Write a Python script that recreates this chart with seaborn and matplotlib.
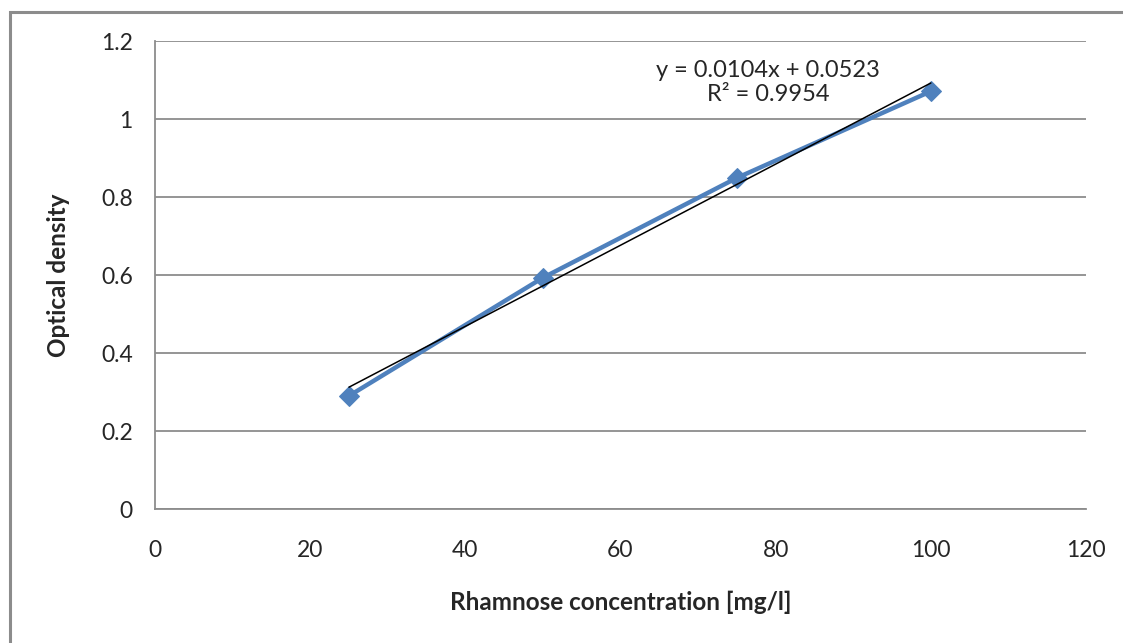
import matplotlib
matplotlib.use('Agg')
import matplotlib.pyplot as plt
from matplotlib.patches import Rectangle
import numpy as np
import pandas as pd
import seaborn as sns

# data
concentration = [25, 50, 75, 100]
optical_density = [0.290, 0.593, 0.849, 1.071]
trend_slope = 0.0104
trend_intercept = 0.0523
r_squared = 0.9954

x_ticks = [0, 20, 40, 60, 80, 100, 120]
y_ticks = [0, 0.2, 0.4, 0.6, 0.8, 1.0, 1.2]
y_tick_labels = ['0', '0.2', '0.4', '0.6', '0.8', '1', '1.2']

sns.set_style('white')
plt.rcParams['font.family'] = ['Lato', 'DejaVu Sans']

fig = plt.figure(figsize=(11.23, 6.43), dpi=100)
ax = fig.add_axes([155 / 1123, 1 - 509 / 643, (1086 - 155) / 1123, (509 - 41) / 643])

# outer chart frame (only left/top visible in the reference)
fig.patches.append(Rectangle((10 / 1123, -0.05), 1.2, 1 - 12 / 643 + 0.05,
                             transform=fig.transFigure, fill=False,
                             edgecolor='#8c8c8c', linewidth=2.2, zorder=0))

df = pd.DataFrame({'conc': concentration, 'od': optical_density})
trend_x = np.array([concentration[0], concentration[-1]])
trend = pd.DataFrame({'conc': trend_x, 'od': trend_slope * trend_x + trend_intercept})

sns.lineplot(data=df, x='conc', y='od', ax=ax, color='#4f81bd', linewidth=3.2,
             marker='D', markersize=10, markeredgecolor='#4f81bd', zorder=3)
sns.lineplot(data=trend, x='conc', y='od', ax=ax, color='black', linewidth=1.1, zorder=4)

ax.text(79, 1.093, f'y = {trend_slope}x + {trend_intercept}\nR² = {r_squared}',
        ha='center', va='center', fontsize=17, linespacing=1.2)

ax.set_xlim(0, 120)
ax.set_ylim(0, 1.2)
ax.set_xticks(x_ticks)
ax.set_yticks(y_ticks)
ax.set_yticklabels(y_tick_labels)
ax.tick_params(axis='both', labelsize=16.5, color='#8c8c8c', length=7, width=1.3,
               direction='out', pad=9)
ax.tick_params(axis='x', direction='inout', length=12, pad=16)
ax.yaxis.grid(True, color='#8c8c8c', linewidth=1.3)
ax.set_axisbelow(True)
for side in ['top', 'right']:
    ax.spines[side].set_visible(False)
for side in ['left', 'bottom']:
    ax.spines[side].set_color('#8c8c8c')
    ax.spines[side].set_linewidth(1.3)

ax.set_xlabel('Rhamnose concentration [mg/l]', fontsize=17.5, fontweight='bold', labelpad=22)
ax.set_ylabel('Optical density', fontsize=17.5, fontweight='bold', labelpad=22)

fig.savefig('out.png', dpi=100)
